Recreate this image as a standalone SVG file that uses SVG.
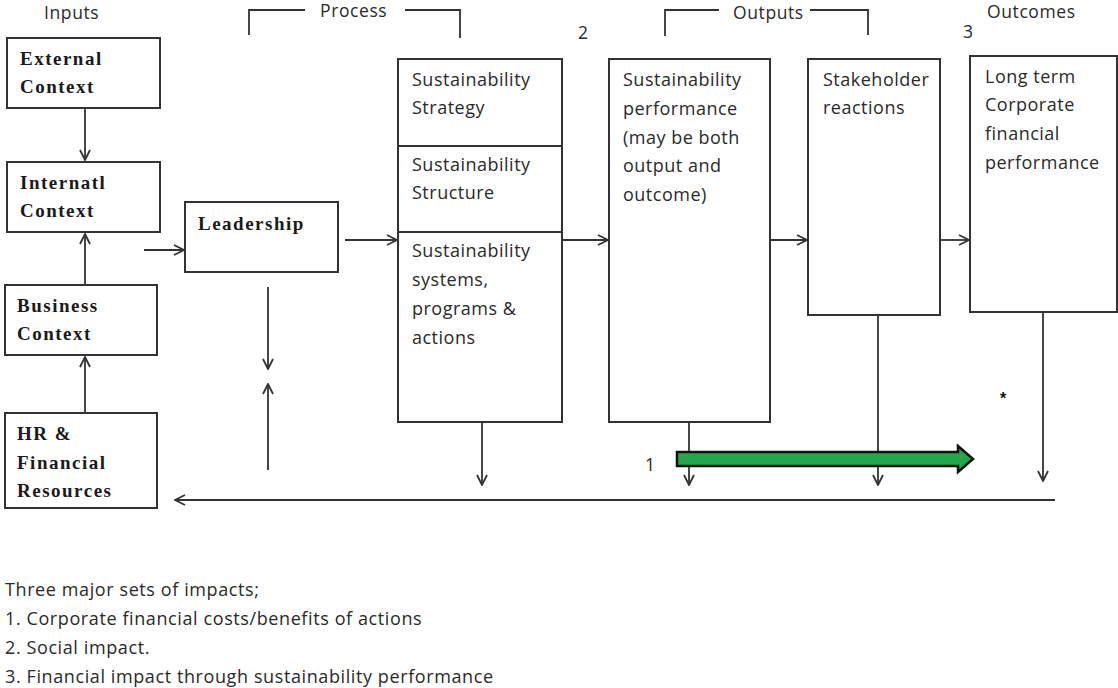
<svg xmlns="http://www.w3.org/2000/svg" width="1118" height="688" viewBox="0 0 1118 688">
<style>
.box{fill:#fff;stroke:#333;stroke-width:2}
.ln{fill:none;stroke:#333;stroke-width:1.8}
.s{font-family:"Open Sans","Liberation Sans",sans-serif;font-size:18px;letter-spacing:0.5px;fill:#2a2a2a}
.r{font-family:"Liberation Serif","DejaVu Serif",serif;font-size:19px;letter-spacing:1.5px;fill:#1a1a1a;font-weight:bold}
.h{font-family:"Open Sans","Liberation Sans",sans-serif;font-size:17.5px;letter-spacing:0.6px;fill:#2a2a2a}
.n{font-family:"Open Sans","Liberation Sans",sans-serif;font-size:18px;letter-spacing:0.6px;fill:#2a2a2a}
</style>
<defs>
<marker id="ah" viewBox="0 0 12 12" refX="11" refY="6" markerWidth="12" markerHeight="12" markerUnits="userSpaceOnUse" orient="auto">
<path d="M1,1 L11,6 L1,11" fill="none" stroke="#333" stroke-width="1.8"/>
</marker>
</defs>
<rect width="1118" height="688" fill="#fff"/>

<g id="headers">
<text class="h" x="44" y="19">Inputs</text>
<text class="h" x="320" y="17">Process</text>
<text class="h" x="733" y="19">Outputs</text>
<text class="h" x="987" y="18">Outcomes</text>
<text class="h" x="578" y="39">2</text>
<text class="h" x="963" y="38">3</text>
<text class="h" x="645" y="471">1</text>
<text x="1000" y="404" font-family="Liberation Sans,sans-serif" font-size="16" font-weight="bold" fill="#111">*</text>
<path class="ln" d="M249,35 V10 H305 M405,10 H460 V38"/>
<path class="ln" d="M665,36 V10 H719 M810,10 H868 V35"/>
</g>

<g id="external">
<rect class="box" x="7" y="38" width="153" height="70"/>
<text class="r" x="20" y="65">External</text>
<text class="r" x="20" y="93">Context</text>
</g>
<g id="internatl">
<rect class="box" x="7" y="162" width="153" height="70"/>
<text class="r" x="20" y="189">Internatl</text>
<text class="r" x="20" y="217">Context</text>
</g>
<g id="business">
<rect class="box" x="5" y="285" width="152" height="70"/>
<text class="r" x="17" y="312">Business</text>
<text class="r" x="17" y="340">Context</text>
</g>
<g id="hr">
<rect class="box" x="5" y="413" width="152" height="95"/>
<text class="r" x="17" y="440">HR &amp;</text>
<text class="r" x="17" y="469">Financial</text>
<text class="r" x="17" y="497">Resources</text>
</g>
<g id="leadership">
<rect class="box" x="185" y="202" width="153" height="70"/>
<text class="r" x="198" y="230">Leadership</text>
</g>
<g id="sustainability">
<rect class="box" x="398" y="59" width="164" height="363"/>
<line class="ln" x1="398" y1="146" x2="562" y2="146"/>
<line class="ln" x1="398" y1="232" x2="562" y2="232"/>
<text class="s" x="412" y="86">Sustainability</text>
<text class="s" x="412" y="114">Strategy</text>
<text class="s" x="412" y="171">Sustainability</text>
<text class="s" x="412" y="199">Structure</text>
<text class="s" x="412" y="257">Sustainability</text>
<text class="s" x="412" y="286">systems,</text>
<text class="s" x="412" y="315">programs &amp;</text>
<text class="s" x="412" y="344">actions</text>
</g>
<g id="performance">
<rect class="box" x="609" y="59" width="161" height="363"/>
<text class="s" x="623" y="86">Sustainability</text>
<text class="s" x="623" y="115">performance</text>
<text class="s" x="623" y="144">(may be both</text>
<text class="s" x="623" y="172">output and</text>
<text class="s" x="623" y="201">outcome)</text>
</g>
<g id="stakeholder">
<rect class="box" x="808" y="59" width="132" height="256"/>
<text class="s" x="823" y="86">Stakeholder</text>
<text class="s" x="823" y="114">reactions</text>
</g>
<g id="longterm">
<rect class="box" x="970" y="56" width="147" height="256"/>
<text class="s" x="985" y="83">Long term</text>
<text class="s" x="985" y="111">Corporate</text>
<text class="s" x="985" y="140">financial</text>
<text class="s" x="985" y="169">performance</text>
</g>

<g id="connectors">
<line class="ln" x1="85" y1="108" x2="85" y2="160" marker-end="url(#ah)"/>
<line class="ln" x1="85" y1="285" x2="85" y2="234" marker-end="url(#ah)"/>
<line class="ln" x1="85" y1="413" x2="85" y2="357" marker-end="url(#ah)"/>
<line class="ln" x1="144" y1="250" x2="184" y2="250" marker-end="url(#ah)"/>
<line class="ln" x1="345" y1="240" x2="397" y2="240" marker-end="url(#ah)"/>
<line class="ln" x1="562" y1="240" x2="608" y2="240" marker-end="url(#ah)"/>
<line class="ln" x1="770" y1="240" x2="807" y2="240" marker-end="url(#ah)"/>
<line class="ln" x1="940" y1="240" x2="969" y2="240" marker-end="url(#ah)"/>
<line class="ln" x1="268" y1="287" x2="268" y2="369" marker-end="url(#ah)"/>
<line class="ln" x1="268" y1="470" x2="268" y2="384" marker-end="url(#ah)"/>
<line class="ln" x1="482" y1="422" x2="482" y2="485" marker-end="url(#ah)"/>
<line class="ln" x1="689" y1="422" x2="689" y2="485" marker-end="url(#ah)"/>
<line class="ln" x1="878" y1="315" x2="878" y2="485" marker-end="url(#ah)"/>
<line class="ln" x1="1043" y1="312" x2="1043" y2="481" marker-end="url(#ah)"/>
<line class="ln" x1="1055" y1="500" x2="175" y2="500" marker-end="url(#ah)"/>
<path d="M677,452 H958 V446 L973,459 L958,472 V466 H677 Z" fill="#22a84a" stroke="#111" stroke-width="2.5" stroke-linejoin="miter"/>
</g>

<g id="notes">
<text class="n" x="5" y="596">Three major sets of impacts;</text>
<text class="n" x="5" y="625">1. Corporate financial costs/benefits of actions</text>
<text class="n" x="5" y="654">2. Social impact.</text>
<text class="n" x="5" y="683">3. Financial impact through sustainability performance</text>
</g>
</svg>
